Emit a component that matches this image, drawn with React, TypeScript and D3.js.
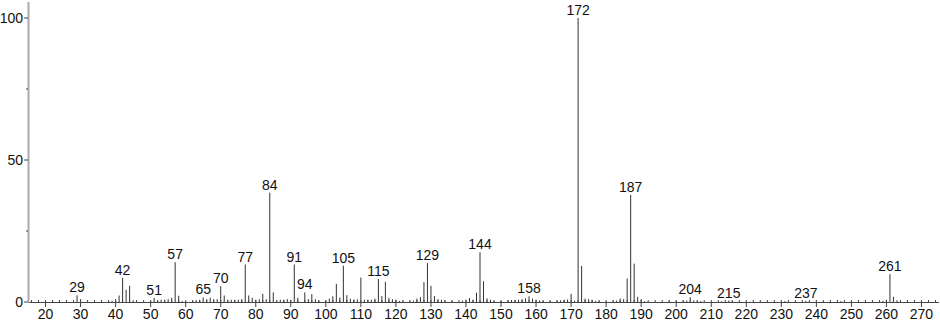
import React from "react";
import * as d3 from "d3";

const mzValues = [
  29, 30, 39, 40, 41, 42, 43, 44, 45, 50, 51, 52, 53, 54, 55, 56, 57, 58, 59, 62,
  63, 64, 65, 66, 67, 68, 69, 70, 71, 72, 73, 74, 75, 76, 77, 78, 79, 80, 81, 82,
  83, 84, 85, 86, 87, 88, 89, 90, 91, 92, 94, 95, 96, 97, 98, 100, 101, 102, 103, 104,
  105, 106, 107, 108, 109, 110, 111, 112, 113, 114, 115, 116, 117, 118, 119, 120, 121, 122, 124, 125,
  126, 127, 128, 129, 130, 131, 132, 133, 134, 136, 139, 140, 141, 142, 143, 144, 145, 146, 147, 148,
  150, 152, 153, 154, 155, 156, 157, 158, 159, 160, 161, 162, 164, 166, 167, 168, 169, 170, 171, 172,
  173, 174, 175, 176, 177, 178, 182, 183, 184, 185, 186, 187, 188, 189, 190, 191, 198, 200, 202, 203,
  204, 205, 206, 207, 213, 215, 216, 231, 237, 247, 259, 260, 261, 262, 263,
];

const intensities = [
  2.3, 1.0, 0.4, 1.0, 2.3, 8.5, 4.3, 5.7, 0.6, 0.4, 1.4, 0.6, 0.8, 0.8, 1.0, 1.5, 14.0, 2.2, 0.3, 0.3,
  0.7, 0.8, 1.6, 1.0, 1.5, 1.0, 1.0, 5.6, 2.3, 0.8, 0.8, 0.8, 0.8, 1.0, 13.2, 2.3, 1.5, 0.8, 1.0, 2.9,
  1.0, 38.5, 3.4, 0.3, 0.8, 0.8, 1.0, 0.7, 13.2, 1.5, 3.4, 1.0, 2.8, 1.0, 0.5, 0.6, 1.2, 2.0, 6.4, 1.6,
  12.8, 2.4, 1.2, 0.9, 0.9, 8.6, 0.8, 0.8, 0.8, 1.2, 8.1, 2.1, 7.1, 1.5, 1.0, 0.8, 0.4, 0.3, 0.3, 0.5,
  1.2, 1.7, 7.0, 13.7, 5.7, 2.1, 1.0, 0.8, 0.5, 0.3, 0.5, 0.8, 1.4, 0.8, 3.3, 17.5, 7.3, 1.3, 0.8, 0.3,
  0.3, 0.6, 0.7, 0.7, 0.8, 1.0, 1.3, 2.0, 1.2, 0.8, 0.6, 0.4, 0.3, 0.4, 0.6, 0.8, 0.9, 2.9, 0.5, 100,
  12.7, 1.2, 1.0, 0.8, 0.4, 0.3, 0.3, 0.5, 1.2, 1.0, 8.3, 37.7, 13.5, 1.8, 1.0, 0.3, 0.3, 0.3, 0.4, 0.5,
  1.7, 0.6, 0.3, 0.3, 0.3, 0.5, 0.3, 0.3, 0.4, 0.3, 0.4, 0.8, 9.8, 1.8, 0.6,
];

const labeledPeaks = [29, 42, 51, 57, 65, 70, 77, 84, 91, 94, 105, 115, 129, 144, 158, 172, 187, 204, 215, 237, 261];

const xTickLabels = [20, 30, 40, 50, 60, 70, 80, 90, 100, 110, 120, 130, 140, 150, 160, 170, 180, 190, 200, 210, 220, 230, 240, 250, 260, 270];
const yTickLabels = [0, 50, 100];

const W = 940;
const H = 324;
const FONT = "'Liberation Sans', Arial, sans-serif";

export default function App() {
  const x = d3.scaleLinear().domain([15, 275]).range([28, 939]);
  const y = d3.scaleLinear().domain([0, 100]).range([302, 18]);

  const data = mzValues.map((m, i) => ({ mz: m, v: intensities[i] }));
  const minorTicks = d3.range(16, 275, 2).filter((t) => t % 10 !== 0);
  const majorTicks = xTickLabels;
  const yMinor = [25, 75];

  return (
    <svg
      width={W}
      height={H}
      style={{ position: "absolute", left: 0, top: 0, background: "#fff" }}
      fontFamily={FONT}
    >
      {/* bars */}
      {data.map((d) => (
        <rect
          key={d.mz}
          x={x(d.mz) - 0.5}
          y={y(d.v)}
          width={1}
          height={y(0) - y(d.v)}
          fill="#333"
        />
      ))}
      {/* x axis */}
      <line x1={28} x2={939} y1={302.5} y2={302.5} stroke="#444" strokeWidth={1} />
      {minorTicks.map((t) => (
        <line key={"m" + t} x1={x(t)} x2={x(t)} y1={300} y2={303} stroke="#444" strokeWidth={1} />
      ))}
      {majorTicks.map((t) => (
        <g key={"M" + t}>
          <line x1={x(t)} x2={x(t)} y1={300} y2={307} stroke="#444" strokeWidth={1} />
          <text x={x(t)} y={319} textAnchor="middle" fontSize={14} fill="#111">
            {t}
          </text>
        </g>
      ))}
      {/* y axis */}
      <line x1={28.5} x2={28.5} y1={2} y2={303} stroke="#aaa" strokeWidth={2} />
      {yTickLabels.map((t) => (
        <g key={"y" + t}>
          <line x1={24} x2={28} y1={y(t)} y2={y(t)} stroke="#444" strokeWidth={1} />
          <text x={23} y={y(t) + 5} textAnchor="end" fontSize={14} fill="#111">
            {t}
          </text>
        </g>
      ))}
      {yMinor.map((t) => (
        <line key={"ym" + t} x1={26} x2={28} y1={y(t)} y2={y(t)} stroke="#444" strokeWidth={1} />
      ))}
      {/* peak labels */}
      {data
        .filter((d) => labeledPeaks.includes(d.mz))
        .map((d) => (
          <text
            key={"l" + d.mz}
            x={x(d.mz)}
            y={y(d.v) - 3}
            textAnchor="middle"
            fontSize={14}
            fill="#111"
          >
            {d.mz}
          </text>
        ))}
    </svg>
  );
}
